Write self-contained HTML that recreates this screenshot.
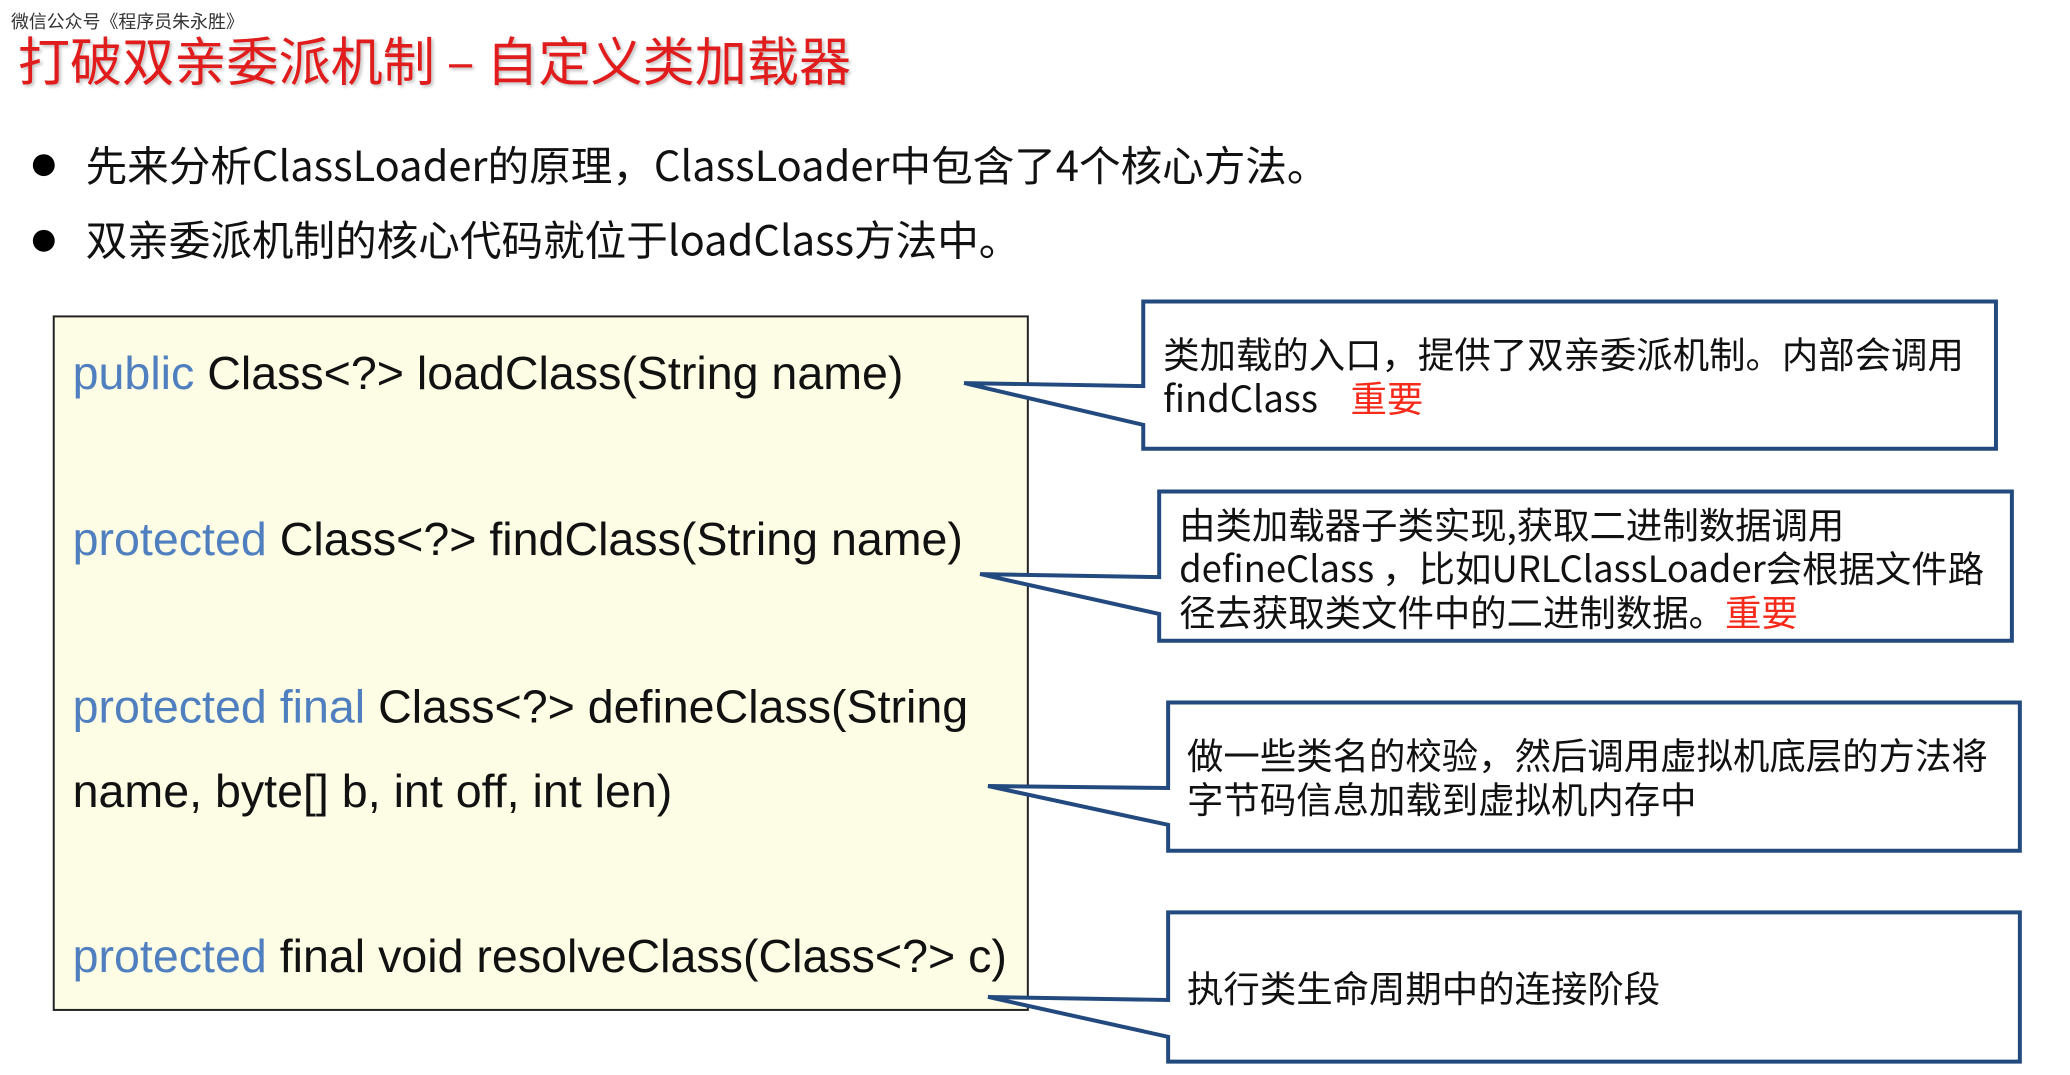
<!DOCTYPE html>
<html><head><meta charset="utf-8"><style>
body{margin:0;width:2070px;height:1075px;background:#fff;position:relative;overflow:hidden;font-family:"Liberation Sans","Noto Sans CJK SC",sans-serif;}
#w{position:absolute;left:0;top:0;width:2070px;height:1075px;transform:scale(0.995);transform-origin:0 0;}
.a{position:absolute;white-space:nowrap;}
.cjk{font-family:"Noto Sans CJK SC","Liberation Sans",sans-serif;}
.code{font-family:"Liberation Sans","Noto Sans CJK SC",sans-serif;font-size:46.8px;color:#111;line-height:1;}
.kw{color:#4f7fbf;}
.co{font-size:36.6px;color:#111;line-height:44px;font-family:"Noto Sans CJK SC","Liberation Sans",sans-serif;}
.red{color:#f52a1a;}
.dot{position:absolute;width:22px;height:22px;border-radius:50%;background:#000;}
</style></head><body><div id="w">
<div class="a cjk" style="left:11px;top:8px;font-size:18px;color:#333;">微信公众号《程序员朱永胜》</div>
<div class="a cjk" style="left:18px;top:28px;font-size:52.4px;color:#e01c1c;line-height:62px;text-shadow:2px 2px 3px rgba(0,0,0,0.25);">打破双亲委派机制 – 自定义类加载器</div>
<div class="dot" style="left:33px;top:155px;"></div>
<div class="a cjk" style="left:86px;top:137px;font-size:41.8px;line-height:56px;color:#111;">先来分析ClassLoader的原理，ClassLoader中包含了4个核心方法。</div>
<div class="dot" style="left:33px;top:231px;"></div>
<div class="a cjk" style="left:86px;top:212px;font-size:41.8px;line-height:56px;color:#111;">双亲委派机制的核心代码就位于loadClass方法中。</div>

<svg width="2070" height="1075" style="position:absolute;left:0;top:0">
<rect x="54" y="318" width="979" height="697" fill="#fdfde6" stroke="#222" stroke-width="2"/>
<g fill="#fff" stroke="#234a7e" stroke-width="4" stroke-linejoin="miter">
<path d="M1149,303 H2006 V451 H1149 V427 L969,385 L1149,388 Z"/>
<path d="M1165,494 H2022 V644 H1165 V617 L985,577 L1165,580 Z"/>
<path d="M1174,706 H2030 V855 H1174 V829 L993,790 L1174,792 Z"/>
<path d="M1174,917 H2030 V1067 H1174 V1042 L993,1002 L1174,1005 Z"/>
</g>
</svg>

<div class="a code" style="left:73px;top:352px;"><span class="kw">public</span> Class&lt;?&gt; loadClass(String name)</div>
<div class="a code" style="left:73px;top:519px;"><span class="kw">protected</span> Class&lt;?&gt; findClass(String name)</div>
<div class="a code" style="left:73px;top:687px;"><span class="kw">protected final</span> Class&lt;?&gt; defineClass(String</div>
<div class="a code" style="left:73px;top:772px;">name, byte[] b, int off, int len)</div>
<div class="a code" style="left:73px;top:938px;"><span class="kw">protected</span> final void resolveClass(Class&lt;?&gt; c)</div>

<div class="a co" style="left:1169px;top:333px;">类加载的入口，提供了双亲委派机制。内部会调用<br>findClass&nbsp;&nbsp;&nbsp;&nbsp;<span class="red">重要</span></div>
<div class="a co" style="left:1185px;top:504px;">由类加载器子类实现,获取二进制数据调用<br>defineClass ，比如URLClassLoader会根据文件路<br>径去获取类文件中的二进制数据。<span class="red">重要</span></div>
<div class="a co" style="left:1193px;top:736px;">做一些类名的校验，然后调用虚拟机底层的方法将<br>字节码信息加载到虚拟机内存中</div>
<div class="a co" style="left:1193px;top:970px;">执行类生命周期中的连接阶段</div>
</div></body></html>
